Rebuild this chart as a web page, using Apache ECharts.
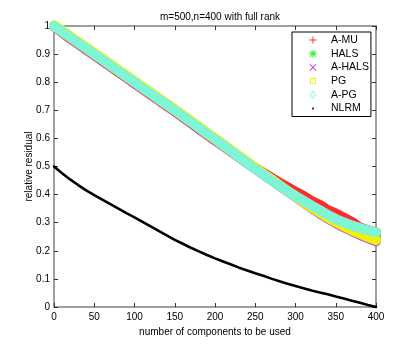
<!DOCTYPE html>
<html>
<head>
<meta charset="utf-8">
<script src="https://cdn.jsdelivr.net/npm/echarts@6/dist/echarts.min.js"></script>
<style>
  html, body { margin: 0; padding: 0; background: #fff; }
  #chart { width: 415px; height: 346px; }
</style>
</head>
<body>
<div id="chart"></div>
<script>
// number of components k
const comps = [0, 10, 20, 30, 40, 50, 60, 70, 80, 90, 100, 110, 120, 130, 140, 150, 160, 170, 180, 190, 200,
  210, 220, 230, 240, 250, 260, 270, 280, 290, 300, 310, 320, 330, 340, 350, 360, 370, 380, 390, 400];

const amu = [1.000, 0.977, 0.956, 0.936, 0.916, 0.896, 0.876, 0.856, 0.836, 0.816, 0.796,
  0.776, 0.756, 0.736, 0.716, 0.696, 0.675, 0.655, 0.634, 0.613, 0.593,
  0.573, 0.553, 0.533, 0.513, 0.495, 0.478, 0.460, 0.443, 0.427, 0.410,
  0.395, 0.377, 0.364, 0.345, 0.333, 0.318, 0.303, 0.283, 0.273, 0.266];

const hals = [1.000, 0.980, 0.960, 0.940, 0.920, 0.900, 0.880, 0.860, 0.840, 0.820, 0.800,
  0.780, 0.760, 0.740, 0.720, 0.700, 0.679, 0.659, 0.638, 0.617, 0.597,
  0.576, 0.555, 0.534, 0.513, 0.492, 0.472, 0.452, 0.432, 0.413, 0.394,
  0.376, 0.358, 0.341, 0.324, 0.308, 0.294, 0.281, 0.270, 0.260, 0.250];

const ahals = [1.000, 0.980, 0.960, 0.940, 0.920, 0.900, 0.880, 0.860, 0.840, 0.820, 0.800,
  0.780, 0.760, 0.740, 0.720, 0.700, 0.679, 0.659, 0.638, 0.617, 0.597,
  0.576, 0.555, 0.534, 0.513, 0.492, 0.472, 0.452, 0.432, 0.412, 0.392,
  0.372, 0.352, 0.333, 0.315, 0.299, 0.284, 0.270, 0.257, 0.245, 0.234];

const pg = [1.003, 0.984, 0.964, 0.944, 0.924, 0.904, 0.884, 0.864, 0.844, 0.824, 0.804,
  0.784, 0.764, 0.744, 0.724, 0.704, 0.683, 0.663, 0.642, 0.621, 0.601,
  0.580, 0.559, 0.538, 0.517, 0.496, 0.475, 0.455, 0.434, 0.413, 0.393,
  0.373, 0.354, 0.336, 0.318, 0.302, 0.287, 0.273, 0.261, 0.249, 0.238];

const apg = [1.000, 0.980, 0.960, 0.940, 0.920, 0.900, 0.880, 0.860, 0.840, 0.820, 0.800,
  0.780, 0.760, 0.740, 0.720, 0.700, 0.679, 0.659, 0.638, 0.617, 0.597,
  0.576, 0.555, 0.534, 0.513, 0.492, 0.472, 0.452, 0.432, 0.413, 0.395,
  0.378, 0.361, 0.345, 0.328, 0.313, 0.301, 0.290, 0.281, 0.273, 0.266];

const nlrm = [0.500, 0.476, 0.454, 0.434, 0.415, 0.398, 0.382, 0.366, 0.350, 0.334, 0.319,
  0.303, 0.287, 0.271, 0.255, 0.239, 0.225, 0.211, 0.198, 0.185, 0.173,
  0.162, 0.151, 0.140, 0.130, 0.120, 0.111, 0.101, 0.092, 0.083, 0.075,
  0.067, 0.059, 0.052, 0.045, 0.037, 0.030, 0.022, 0.015, 0.007, 0.000];

const names = ['A-MU', 'HALS', 'A-HALS', 'PG', 'A-PG', 'NLRM'];
const values = [amu, hals, ahals, pg, apg, nlrm];
const colors = ['#ff2a2a', '#33ee33', '#bb44ee', '#f2f200', '#7ff5d5', '#000000'];
const widths = [10, 10, 10, 10, 10, 2.6];

// legend markers, drawn in a 10x10 box (corner anchors keep the box size)
const box = 'M0,0L0.01,0L0,0.01ZM10,10L9.99,10L10,9.99Z';
const icons = [
  'path://' + box + 'M4.55,1.5H5.45V4.55H8.5V5.45H5.45V8.5H4.55V5.45H1.5V4.55H4.55Z',
  'path://' + box + 'M4.5,1H5.5V9H4.5ZM1,4.5H9V5.5H1ZM2.2,1.5L8.5,7.8L7.8,8.5L1.5,2.2ZM7.8,1.5L8.5,2.2L2.2,8.5L1.5,7.8Z',
  'path://' + box + 'M2.2,1.5L8.5,7.8L7.8,8.5L1.5,2.2ZM7.8,1.5L8.5,2.2L2.2,8.5L1.5,7.8Z',
  'path://' + box + 'M2,2L8,2L8,8L2,8ZM2.9,2.9L2.9,7.1L7.1,7.1L7.1,2.9Z',
  'path://' + box + 'M5,0.8L8.3,5L5,9.2L1.7,5ZM5,2.2L2.8,5L5,7.8L7.2,5Z',
  'path://' + box + 'M5,4A1,1,0,1,1,5,6A1,1,0,1,1,5,4Z'
];

const chart = echarts.init(document.getElementById('chart'));

const axisCommon = {
  min: 0,
  axisLine: { show: true, onZero: false, lineStyle: { color: '#808080', width: 1.5 } },
  axisTick: { show: true, inside: true, length: 4, lineStyle: { color: '#333' } },
  splitLine: { show: false }
};

const option = {
  animation: false,
  backgroundColor: '#fff',
  textStyle: { fontFamily: 'Liberation Sans, Arial, sans-serif' },
  title: {
    text: 'm=500,n=400 with full rank',
    left: 215,
    textAlign: 'center',
    top: 7,
    textStyle: { fontSize: 10, fontWeight: 'normal', color: '#000' }
  },
  grid: { left: 54, right: 39, top: 26, bottom: 39 },
  legend: {
    orient: 'vertical',
    left: 292,
    top: 32,
    padding: [2, 2, 2, 16],
    backgroundColor: '#fff',
    borderColor: '#000',
    borderWidth: 1,
    itemWidth: 10,
    itemHeight: 10,
    itemGap: 1.7,
    textStyle: { fontSize: 10.5, color: '#000', lineHeight: 12, padding: [0, 0, 0, 8] },
    data: names.map((n, i) => ({
      name: n,
      icon: icons[i],
      itemStyle: { color: i === 4 ? '#7fffd4' : colors[i], borderWidth: 0 }
    }))
  },
  xAxis: [
    Object.assign({}, axisCommon, {
      type: 'value', max: 400, interval: 50, position: 'bottom',
      name: 'number of components to be used',
      nameLocation: 'middle', nameGap: 20, nameMoveOverlap: false,
      nameTextStyle: { fontSize: 10, color: '#000' },
      axisLabel: { fontSize: 10, color: '#000', margin: 5 }
    }),
    Object.assign({}, axisCommon, {
      type: 'value', max: 400, interval: 50, position: 'top',
      axisLabel: { show: false }
    })
  ],
  yAxis: [
    Object.assign({}, axisCommon, {
      type: 'value', max: 1, interval: 0.1, position: 'left',
      name: 'relative residual',
      nameLocation: 'middle', nameGap: 20, nameMoveOverlap: false,
      nameTextStyle: { fontSize: 10, color: '#000' },
      axisLabel: { fontSize: 10, color: '#000', margin: 4 }
    }),
    Object.assign({}, axisCommon, {
      type: 'value', max: 1, interval: 0.1, position: 'right',
      axisLabel: { show: false }
    })
  ],
  series: names.map((n, i) => ({
    name: n,
    type: 'line',
    xAxisIndex: 0,
    yAxisIndex: 0,
    showSymbol: false,
    symbol: 'none',
    clip: false,
    color: colors[i],
    lineStyle: { color: colors[i], width: widths[i], cap: 'round', join: 'round' },
    data: comps.map((k, j) => [k, values[i][j]])
  }))
};

chart.setOption(option);
</script>
</body>
</html>
